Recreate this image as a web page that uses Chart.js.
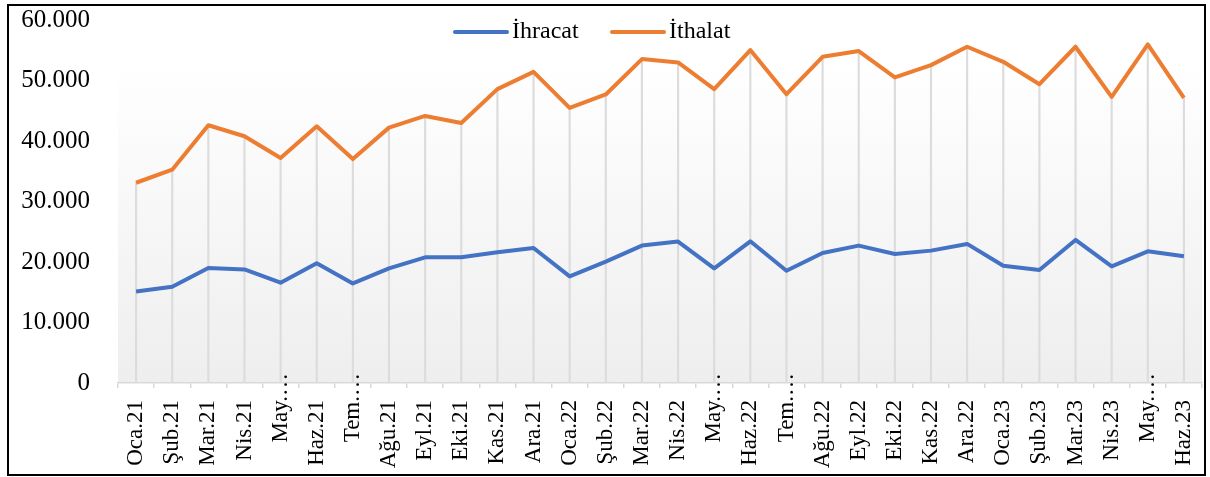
<!DOCTYPE html>
<html>
<head>
<meta charset="utf-8">
<script src="https://cdn.jsdelivr.net/npm/chart.js@4"></script>
<style>
  html, body { margin: 0; padding: 0; background: #fff; }
  #wrap { position: absolute; left: 0; top: 0; width: 1210px; height: 477px; }
  #frame { position: absolute; left: 7px; top: 4px; width: 1199px; height: 472px; border: 2px solid #000; box-sizing: border-box; pointer-events: none; }
</style>
</head>
<body>
<div id="wrap"><canvas id="trade" width="1210" height="477"></canvas></div>
<div id="frame"></div>
<script>
// months (truncated ones are shown as in the original)
const months = ['Oca.21', 'Şub.21', 'Mar.21', 'Nis.21', 'May.…', 'Haz.21', 'Tem.…', 'Ağu.21', 'Eyl.21', 'Eki.21', 'Kas.21', 'Ara.21',
                'Oca.22', 'Şub.22', 'Mar.22', 'Nis.22', 'May.…', 'Haz.22', 'Tem.…', 'Ağu.22', 'Eyl.22', 'Eki.22', 'Kas.22', 'Ara.22',
                'Oca.23', 'Şub.23', 'Mar.23', 'Nis.23', 'May.…', 'Haz.23'];

const ihracat = [15130, 15910, 19010, 18780, 16580, 19780, 16460, 18950, 20770, 20770, 21600, 22320,
                 17620, 20060, 22710, 23370, 18950, 23420, 18560, 21500, 22710, 21330, 21880, 22990,
                 19390, 18680, 23650, 19280, 21770, 20940];

const ithalat = [33100, 35260, 42600, 40780, 37180, 42430, 37010, 42210, 44140, 42980, 48570, 51430,
                 45470, 47690, 53540, 52990, 48570, 55030, 47740, 53920, 54860, 50500, 52540, 55580,
                 53090, 49390, 55580, 47290, 55970, 47120];

const yMin = 0, yMax = 60000, yStep = 10000;

const FONT = '"Liberation Serif", "Times New Roman", serif';
const fmt = v => v.toString().replace(/\B(?=(\d{3})+(?!\d))/g, '.');
const isCut = s => s.indexOf('…') >= 0;

// gradient fill behind the plot
const plotBg = {
    id: 'plotBg',
    beforeDraw(chart) {
        const { ctx, chartArea: a } = chart;
        const g = ctx.createLinearGradient(0, a.top, 0, a.bottom);
        g.addColorStop(0, '#ffffff');
        g.addColorStop(0.12, '#ffffff');
        g.addColorStop(1, '#eeeeee');
        ctx.save();
        ctx.fillStyle = g;
        ctx.fillRect(a.left, a.top, a.right - a.left, a.bottom - a.top);
        ctx.restore();
    }
};

// truncated labels overflow above the axis, like in Excel
const cutLabels = {
    id: 'cutLabels',
    afterDraw(chart) {
        const { ctx } = chart;
        const x = chart.scales.x;
        ctx.save();
        ctx.font = '23px ' + FONT;
        ctx.fillStyle = '#000';
        ctx.textAlign = 'right';
        ctx.textBaseline = 'middle';
        months.forEach((m, i) => {
            if (!isCut(m)) return;
            ctx.save();
            ctx.translate(x.getPixelForValue(i), x.top - 10);
            ctx.rotate(-Math.PI / 2);
            ctx.fillText(m, 0, 0);
            ctx.restore();
        });
        ctx.restore();
    }
};

// legend drawn inside the plot, at the top
const topLegend = {
    id: 'topLegend',
    afterDraw(chart) {
        const { ctx } = chart;
        const items = chart.data.datasets.filter(d => d.type === 'line');
        let x = 455;
        const y = 32;
        ctx.save();
        ctx.font = '24px ' + FONT;
        ctx.textBaseline = 'middle';
        items.forEach(d => {
            ctx.strokeStyle = d.borderColor;
            ctx.lineWidth = 4;
            ctx.lineCap = 'round';
            ctx.beginPath();
            ctx.moveTo(x, y);
            ctx.lineTo(x + 52, y);
            ctx.stroke();
            ctx.fillStyle = '#000';
            ctx.fillText(d.label, x + 57, y);
            x += 157;
        });
        ctx.restore();
    }
};

new Chart(document.getElementById('trade').getContext('2d'), {
    type: 'bar',
    data: {
        labels: months,
        datasets: [
            {
                type: 'line', label: 'İhracat', data: ihracat,
                borderColor: '#4472C4', backgroundColor: '#4472C4',
                borderWidth: 4, pointRadius: 0, tension: 0, borderJoinStyle: 'round', order: 0
            },
            {
                type: 'line', label: 'İthalat', data: ithalat,
                borderColor: '#ED7D31', backgroundColor: '#ED7D31',
                borderWidth: 4, pointRadius: 0, tension: 0, borderJoinStyle: 'round', order: 1
            },
            {
                // drop lines from the top series to the axis
                type: 'bar', label: 'drop', data: ithalat,
                backgroundColor: '#dcdcdc', barThickness: 1.5, order: 2
            }
        ]
    },
    options: {
        responsive: false,
        animation: false,
        layout: { padding: { left: 10, right: 8, top: 20, bottom: 0 } },
        plugins: {
            legend: { display: false },
            tooltip: { enabled: false }
        },
        scales: {
            x: {
                offset: true,
                grid: { offset: true, drawOnChartArea: false, tickLength: 5, color: '#d9d9d9', lineWidth: 1.5 },
                border: { display: true, color: '#d9d9d9', width: 1.5 },
                ticks: {
                    autoSkip: false, maxRotation: 90, minRotation: 90, padding: 12,
                    color: c => isCut(months[c.index]) ? 'rgba(0,0,0,0)' : '#000',
                    font: { family: FONT, size: 23 }
                },
                afterFit(s) { s.height = 94; s.paddingLeft = 0; s.paddingRight = 0; }
            },
            y: {
                min: yMin, max: yMax,
                grid: { display: false },
                border: { display: false },
                ticks: {
                    stepSize: yStep, padding: 20, color: '#000',
                    font: { family: FONT, size: 25 },
                    callback: v => fmt(v)
                },
                afterFit(s) { s.width = 108; s.paddingTop = 0; s.paddingBottom = 0; }
            }
        }
    },
    plugins: [plotBg, cutLabels, topLegend]
});
</script>
</body>
</html>
